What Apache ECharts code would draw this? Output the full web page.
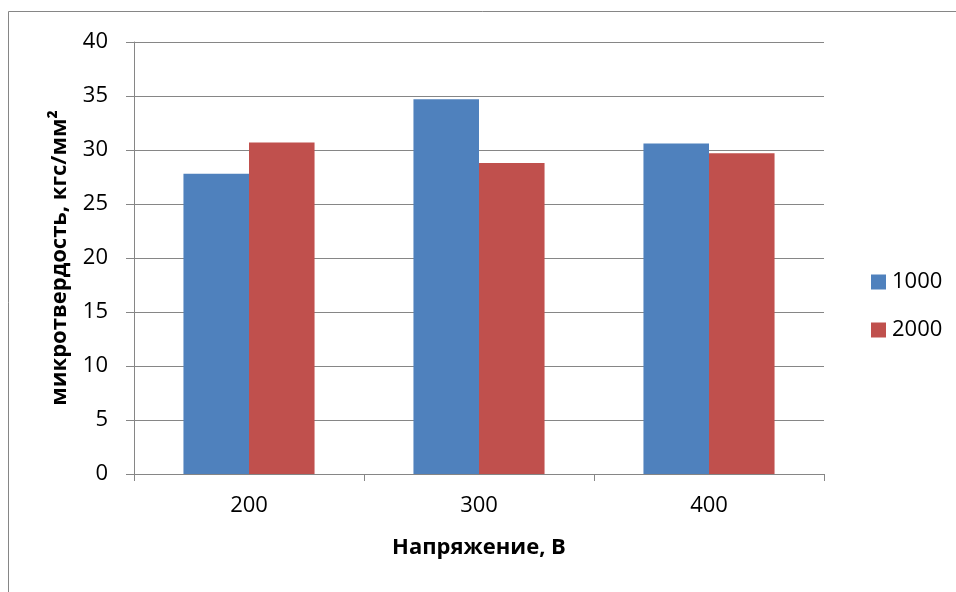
<!DOCTYPE html>
<html>
<head>
<meta charset="utf-8">
<script src="https://cdn.jsdelivr.net/npm/echarts@6/dist/echarts.min.js"></script>
<style>
  html, body { margin: 0; padding: 0; background: #fff; }
  #chart { width: 956px; height: 592px; }
</style>
</head>
<body>
<div id="chart"></div>
<script>
// Voltage categories (x axis) and microhardness series
const categories = ['200', '300', '400'];
const seriesNames = ['1000', '2000'];
const values1000 = [27.8, 34.7, 30.6];
const values2000 = [30.7, 28.8, 29.7];
const colors = ['#4f81bd', '#c0504d'];

const FONT = '"Open Sans", "Noto Sans", sans-serif';
const GRAY = '#868686';

const chart = echarts.init(document.getElementById('chart'));
chart.setOption({
  animation: false,
  backgroundColor: '#fff',
  graphic: [{
    type: 'rect',
    shape: { x: 8.5, y: 11.5, width: 1000, height: 700 },
    style: { fill: 'none', stroke: GRAY, lineWidth: 1 },
    silent: true
  }],
  grid: { left: 134, right: 132, top: 42, bottom: 118 },
  legend: {
    orient: 'vertical',
    left: 866,
    top: 266,
    itemWidth: 15,
    itemHeight: 15,
    itemGap: 26,
    icon: 'rect',
    textStyle: { fontFamily: FONT, fontSize: 22, lineHeight: 15, color: '#000', padding: [0, 0, 0, 1] },
    data: seriesNames
  },
  xAxis: {
    type: 'category',
    data: categories,
    name: 'Напряжение, В',
    nameLocation: 'middle',
    nameGap: 63,
    nameTextStyle: { fontFamily: FONT, fontSize: 22, fontWeight: 'bold', color: '#000' },
    axisLine: { lineStyle: { color: GRAY, width: 1 } },
    axisTick: { show: true, length: 7, lineStyle: { color: GRAY } },
    axisLabel: { fontFamily: FONT, fontSize: 22, color: '#000', margin: 21 }
  },
  yAxis: {
    type: 'value',
    min: 0,
    max: 40,
    interval: 5,
    name: 'микротвердость, кгс/мм²',
    nameLocation: 'middle',
    nameGap: 63,
    nameTextStyle: { fontFamily: FONT, fontSize: 22, fontWeight: 'bold', color: '#000' },
    axisLine: { show: true, lineStyle: { color: GRAY, width: 1 } },
    axisTick: { show: true, length: 8, lineStyle: { color: GRAY } },
    axisLabel: { fontFamily: FONT, fontSize: 22, color: '#000', margin: 26 },
    splitLine: { show: true, lineStyle: { color: GRAY, width: 1 } }
  },
  series: [
    {
      name: seriesNames[0],
      type: 'bar',
      data: values1000,
      barGap: '0%',
      barCategoryGap: '43%',
      itemStyle: { color: colors[0] }
    },
    {
      name: seriesNames[1],
      type: 'bar',
      data: values2000,
      barGap: '0%',
      barCategoryGap: '43%',
      itemStyle: { color: colors[1] }
    }
  ]
});
</script>
</body>
</html>
